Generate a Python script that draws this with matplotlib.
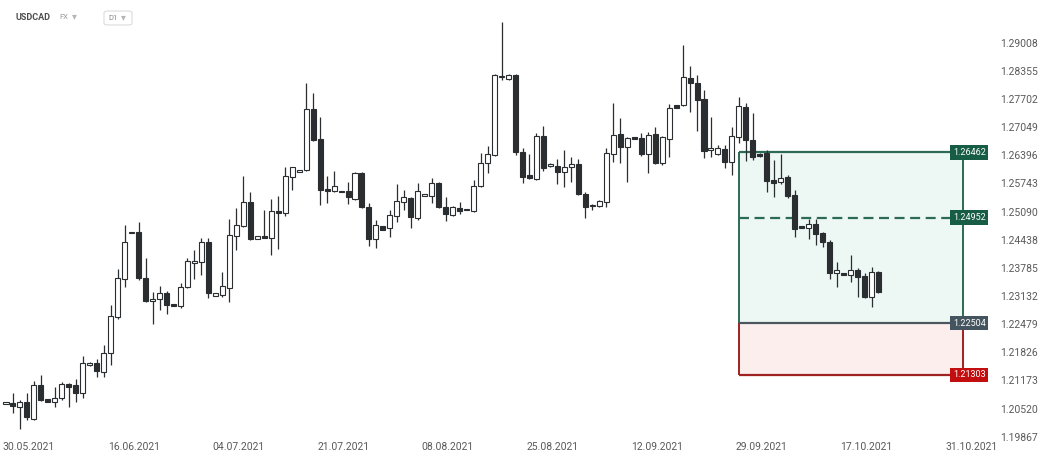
import matplotlib.pyplot as plt
from matplotlib.patches import FancyBboxPatch

plt.rcParams['font.family'] = ['Roboto', 'DejaVu Sans']

# daily USDCAD candles
opens = [1.20627, 1.20650, 1.20558, 1.20674, 1.20279, 1.21068, 1.20743, 1.20674, 1.20766, 1.21091,
         1.21068, 1.20882, 1.21532, 1.21578, 1.21370, 1.21810, 1.22646, 1.23527, 1.24594, 1.24618,
         1.23550, 1.23017, 1.23063, 1.23202, 1.22947, 1.22901, 1.23342, 1.23898, 1.23922, 1.24386,
         1.23133, 1.23156, 1.23318, 1.24525, 1.24757, 1.25314, 1.24455, 1.24525, 1.24478, 1.25105,
         1.25058, 1.25894, 1.26010, 1.26056, 1.27471, 1.26775, 1.25615, 1.25569, 1.25569, 1.25569,
         1.25383, 1.25986, 1.25198, 1.24455, 1.24757, 1.24710, 1.24989, 1.25314, 1.25406, 1.24942,
         1.25453, 1.25453, 1.25754, 1.25198, 1.25012, 1.25174, 1.25151, 1.25105, 1.25685, 1.26218,
         1.26404, 1.28214, 1.28167, 1.28260, 1.26474, 1.25940, 1.25847, 1.26845, 1.26149, 1.26149,
         1.26010, 1.26126, 1.26195, 1.25499, 1.25221, 1.25221, 1.25314, 1.26427, 1.26891, 1.26590,
         1.26822, 1.26798, 1.26427, 1.26891, 1.26218, 1.26775, 1.27564, 1.27564, 1.28190, 1.28074,
         1.27703, 1.26520, 1.26427, 1.26543, 1.26242, 1.26822, 1.27518, 1.26752, 1.26427, 1.26450,
         1.25824, 1.25778, 1.25894, 1.25476, 1.24757, 1.24710, 1.24803, 1.24594, 1.24386, 1.23666,
         1.23666, 1.23620, 1.23736, 1.23597, 1.23110, 1.23690]
highs = [1.20674, 1.20882, 1.20720, 1.20882, 1.21161, 1.21300, 1.20743, 1.21022, 1.21138, 1.21114,
         1.21207, 1.21741, 1.21602, 1.21671, 1.21996, 1.22924, 1.23759, 1.24780, 1.24618, 1.24850,
         1.24014, 1.23226, 1.23365, 1.23249, 1.22947, 1.23434, 1.24014, 1.24200, 1.24478, 1.24478,
         1.23202, 1.23690, 1.24919, 1.25174, 1.25917, 1.25546, 1.24525, 1.25128, 1.25383, 1.25453,
         1.26126, 1.26126, 1.26056, 1.28074, 1.27842, 1.27286, 1.25917, 1.26033, 1.25569, 1.25778,
         1.26010, 1.26010, 1.25290, 1.24896, 1.24757, 1.25128, 1.25731, 1.25592, 1.25430, 1.25754,
         1.25499, 1.25870, 1.25778, 1.25430, 1.25221, 1.25314, 1.25151, 1.25824, 1.26450, 1.26613,
         1.28283, 1.29490, 1.28283, 1.28283, 1.26566, 1.26427, 1.26914, 1.27077, 1.26218, 1.26311,
         1.26520, 1.26358, 1.26311, 1.25546, 1.25267, 1.25360, 1.26566, 1.27610, 1.27262, 1.26822,
         1.26822, 1.26914, 1.26938, 1.27054, 1.26845, 1.27587, 1.27564, 1.28956, 1.28469, 1.28260,
         1.27912, 1.27286, 1.26636, 1.26636, 1.27054, 1.27750, 1.27610, 1.27378, 1.26450, 1.26520,
         1.26288, 1.26427, 1.25940, 1.25592, 1.24757, 1.24919, 1.24919, 1.24618, 1.24432, 1.23922,
         1.23666, 1.24084, 1.23782, 1.23666, 1.23806, 1.23713]
lows = [1.20627, 1.20418, 1.20047, 1.20256, 1.20256, 1.20697, 1.20674, 1.20558, 1.20720, 1.20558,
        1.20674, 1.20766, 1.21509, 1.21254, 1.21254, 1.21532, 1.22599, 1.23342, 1.24594, 1.23504,
        1.22994, 1.22483, 1.22808, 1.22715, 1.22901, 1.22854, 1.23318, 1.23527, 1.23620, 1.23086,
        1.23133, 1.23110, 1.22994, 1.24200, 1.24734, 1.24432, 1.24455, 1.24478, 1.24084, 1.24223,
        1.24989, 1.25592, 1.26010, 1.26033, 1.26729, 1.25244, 1.25290, 1.25546, 1.25546, 1.25267,
        1.25360, 1.25174, 1.24293, 1.24246, 1.24664, 1.24502, 1.24850, 1.25128, 1.24710, 1.24896,
        1.25453, 1.25290, 1.25174, 1.24873, 1.24989, 1.25035, 1.25128, 1.25082, 1.25662, 1.25986,
        1.26381, 1.28144, 1.28144, 1.26404, 1.25754, 1.25847, 1.25824, 1.26033, 1.26126, 1.25731,
        1.25662, 1.25778, 1.25476, 1.24942, 1.25128, 1.25198, 1.25198, 1.26242, 1.26218, 1.25778,
        1.26775, 1.26381, 1.25986, 1.26195, 1.26172, 1.26358, 1.27494, 1.27541, 1.27402, 1.26961,
        1.26334, 1.26358, 1.26404, 1.26102, 1.25940, 1.26682, 1.26265, 1.26288, 1.26358, 1.25546,
        1.25430, 1.25731, 1.25406, 1.24502, 1.24710, 1.24455, 1.24316, 1.24270, 1.23527, 1.23342,
        1.23620, 1.23458, 1.23110, 1.23086, 1.22878, 1.23202]
closes = [1.20674, 1.20581, 1.20674, 1.20326, 1.21068, 1.20720, 1.20674, 1.20766, 1.21091, 1.21022,
          1.20882, 1.21578, 1.21578, 1.21393, 1.21810, 1.22669, 1.23550, 1.24386, 1.24618, 1.23550,
          1.23017, 1.23063, 1.23202, 1.22924, 1.22901, 1.23342, 1.23945, 1.23945, 1.24386, 1.23202,
          1.23202, 1.23365, 1.24548, 1.24780, 1.25314, 1.24455, 1.24525, 1.24478, 1.25105, 1.25058,
          1.25917, 1.26126, 1.26056, 1.27471, 1.26752, 1.25592, 1.25569, 1.25685, 1.25546, 1.25430,
          1.25986, 1.25198, 1.24455, 1.24780, 1.24664, 1.25012, 1.25337, 1.25430, 1.24966, 1.25569,
          1.25499, 1.25754, 1.25198, 1.25035, 1.25198, 1.25105, 1.25128, 1.25685, 1.26218, 1.26427,
          1.28260, 1.28237, 1.28260, 1.26474, 1.25894, 1.25870, 1.26845, 1.26102, 1.26195, 1.26010,
          1.26126, 1.26195, 1.25499, 1.25198, 1.25244, 1.25337, 1.26450, 1.26868, 1.26590, 1.26798,
          1.26775, 1.26427, 1.26868, 1.26218, 1.26822, 1.27494, 1.27494, 1.28214, 1.28074, 1.27680,
          1.26497, 1.26566, 1.26566, 1.26242, 1.26845, 1.27541, 1.26752, 1.26358, 1.26381, 1.25801,
          1.25754, 1.25870, 1.25453, 1.24687, 1.24710, 1.24803, 1.24571, 1.24386, 1.23666, 1.23736,
          1.23620, 1.23736, 1.23574, 1.23110, 1.23690, 1.23226]

price_ticks = [1.29008, 1.28355, 1.27702, 1.27049, 1.26396, 1.25743, 1.25090, 1.24438,
               1.23785, 1.23132, 1.22479, 1.21826, 1.21173, 1.20520, 1.19867]
date_labels = ['30.05.2021', '16.06.2021', '04.07.2021', '21.07.2021', '08.08.2021',
               '25.08.2021', '12.09.2021', '29.09.2021', '17.10.2021', '31.10.2021']
date_pos = [3.3, 18.3, 33.3, 48.3, 63.3, 78.3, 93.3, 108.3, 123.3, 138.3]

# trade box levels
tp_level = 1.26462
mid_level = 1.24952
entry_level = 1.22504
sl_level = 1.21303
box_start = 105.0
box_end = 137.1
label_x = 138.0

dark = '#2a2e31'
green = '#2c6a55'
red = '#9e2222'

fig = plt.figure(figsize=(10.42, 4.58), dpi=100)
ax = fig.add_axes([0, 0.0437, 0.952, 0.9563])

x = list(range(len(opens)))
bottoms = [min(o, c) for o, c in zip(opens, closes)]
heights = [max(abs(c - o), 0.00018) for o, c in zip(opens, closes)]
faces = ['white' if c >= o else dark for o, c in zip(opens, closes)]

# box fills
ax.fill_between([box_start, box_end], entry_level, tp_level, color='#edf7f3', zorder=0)
ax.fill_between([box_start, box_end], sl_level, entry_level, color='#fdeeee', zorder=0)

ax.vlines(x, lows, highs, color=dark, lw=0.9, zorder=2)
ax.bar(x, heights, bottom=bottoms, width=0.72, color=faces, edgecolor=dark, linewidth=0.8, zorder=3)

# box outline
ax.hlines(tp_level, box_start, box_end, color=green, lw=1.6, zorder=1)
ax.hlines(mid_level, box_start, box_end, color=green, lw=1.6, linestyles=(0, (4.5, 2.5)), zorder=1)
ax.hlines(entry_level, box_start, box_end, color='#4a575e', lw=1.6, zorder=1)
ax.hlines(sl_level, box_start, box_end, color=red, lw=1.6, zorder=1)
ax.vlines([box_start, box_end], entry_level, tp_level, color=green, lw=1.4, zorder=1)
ax.vlines([box_start, box_end], sl_level, entry_level, color=red, lw=1.4, zorder=1)

level_colors = {tp_level: '#175c45', mid_level: '#175c45', entry_level: '#45555f', sl_level: '#c20e0e'}
for lvl, col in level_colors.items():
    ax.text(label_x, lvl, '%.5f' % lvl, ha='center', va='center', fontsize=6.5, color='white',
            bbox=dict(boxstyle='square,pad=0.3', fc=col, ec='none'), zorder=5)

ax.set_xlim(-0.86, 141.26)
ax.set_ylim(1.198384, 1.3)
ax.yaxis.tick_right()
ax.set_yticks(price_ticks)
ax.set_yticklabels(['%.5f' % p for p in price_ticks])
ax.set_xticks(date_pos)
ax.set_xticklabels(date_labels)
ax.tick_params(axis='both', length=0, labelsize=7.5, labelcolor='#5a5a5a')
ax.tick_params(axis='y', pad=6)
ax.tick_params(axis='x', pad=3)
for s in ax.spines.values():
    s.set_visible(False)

# header
fig.text(16 / 1042, 1 - 17 / 458, 'USDCAD', fontsize=6.5, fontweight='bold', color='#4d4d4d', va='center')
fig.text(59 / 1042, 1 - 17 / 458, 'FX', fontsize=5.5, color='#9a9a9a', va='center')
fig.text(72 / 1042, 1 - 16 / 458, '▾', fontsize=7, color='#b5b5b5', va='center')
fig.patches.append(FancyBboxPatch((104 / 1042, 1 - 25 / 458), 28 / 1042, 14 / 458,
                                  boxstyle='round,pad=0,rounding_size=0.004', transform=fig.transFigure,
                                  fc='white', ec='#dcdcdc', lw=0.8))
fig.text(108 / 1042, 1 - 18 / 458, 'D1', fontsize=5.5, color='#8a8a8a', va='center')
fig.text(121 / 1042, 1 - 17 / 458, '▾', fontsize=7, color='#b5b5b5', va='center')

fig.savefig('out.png', dpi=100)
